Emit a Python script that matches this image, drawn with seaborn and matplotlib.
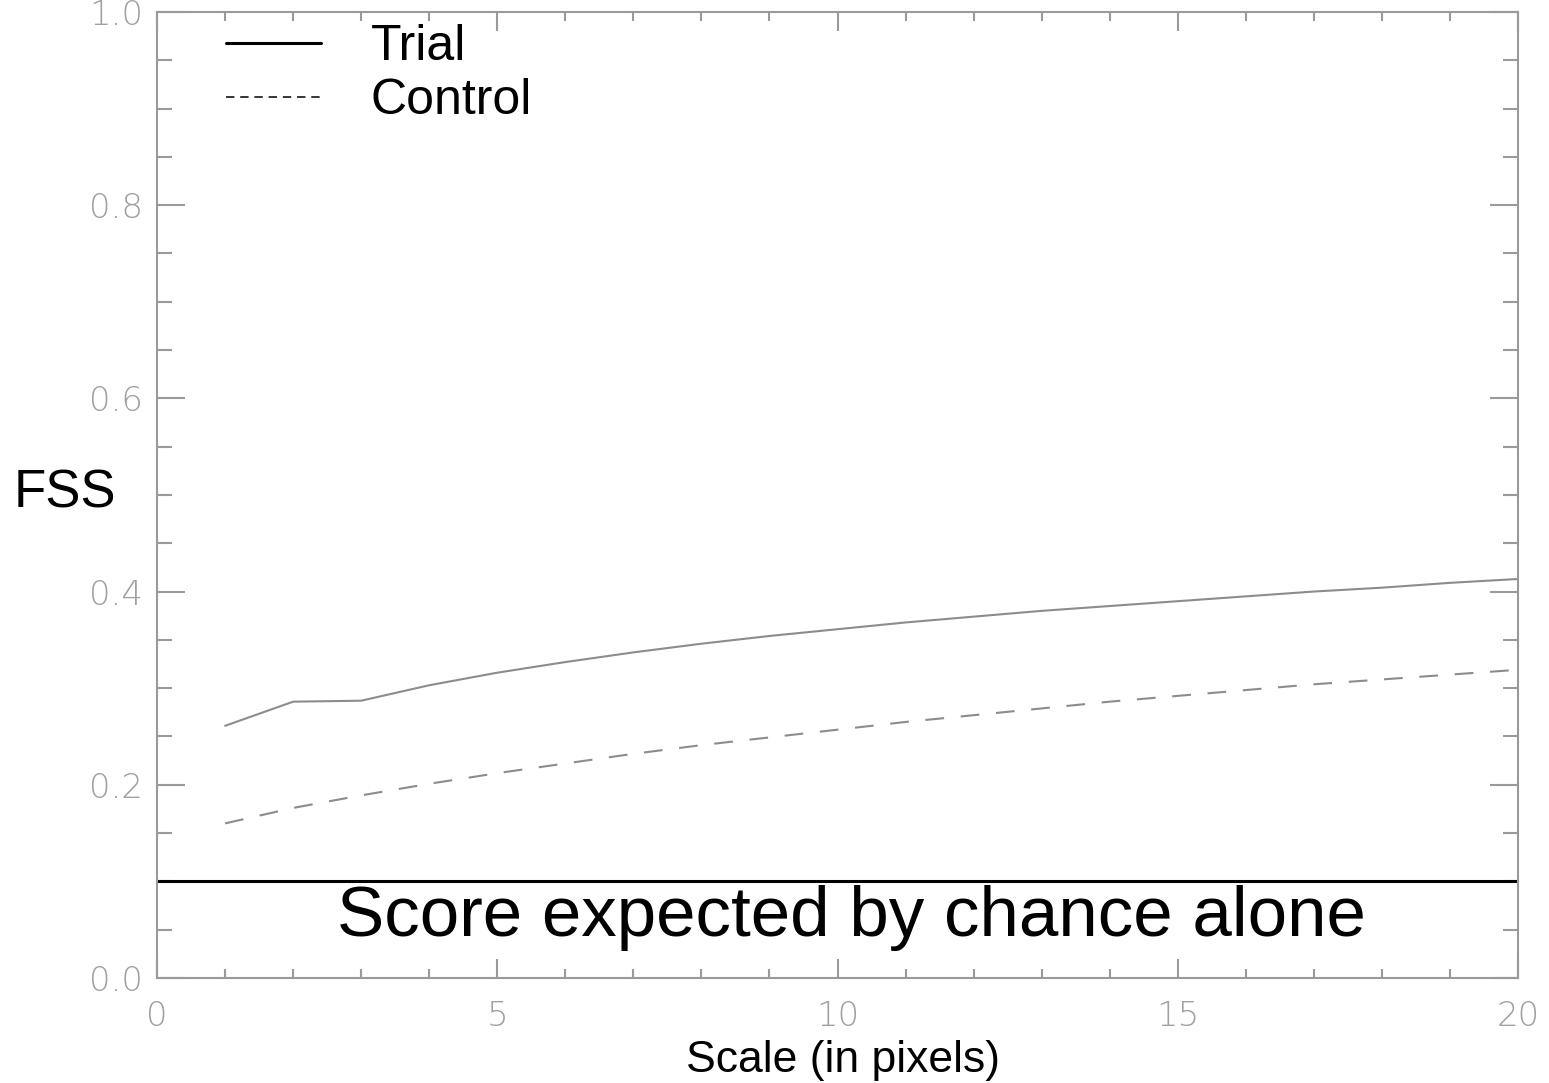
import numpy as np
import pandas as pd
import seaborn as sns
import matplotlib.pyplot as plt
from matplotlib.lines import Line2D
from matplotlib.ticker import MultipleLocator

# FSS, scales 1..20 pixels
scales = list(range(1, 21))
trial_fss = [0.261, 0.286, 0.287, 0.303, 0.316, 0.327, 0.337, 0.346, 0.354, 0.361,
             0.368, 0.374, 0.380, 0.385, 0.390, 0.395, 0.400, 0.404, 0.409, 0.413]
control_fss = [0.160, 0.176, 0.189, 0.201, 0.212, 0.222, 0.232, 0.241, 0.249, 0.257,
               0.265, 0.272, 0.279, 0.286, 0.292, 0.298, 0.304, 0.309, 0.314, 0.319]
chance_score = 0.1
series_names = ["Trial", "Control"]

df = pd.DataFrame({
    "scale": scales + scales,
    "fss": trial_fss + control_fss,
    "run": ["Trial"] * len(scales) + ["Control"] * len(scales),
})

sns.set_theme(style="ticks")
plt.rcParams["font.family"] = ["Liberation Sans", "DejaVu Sans"]

grey = "#9a9a9a"
fig = plt.figure(figsize=(15.49, 10.83), dpi=100)
ax = fig.add_axes([0.1014, 0.097, 0.8786, 0.892])

sns.lineplot(data=df, x="scale", y="fss", style="run",
             dashes={"Trial": "", "Control": (9, 8)},
             color="#8c8c8c", linewidth=1.5, legend=False, ax=ax)

ax.axhline(chance_score, color="black", linewidth=2.2)
ax.text(10.2, 0.043, "Score expected by chance alone", ha="center", va="baseline",
        fontsize=51, color="black")

ax.set_xlim(0, 20)
ax.set_ylim(0, 1.0)
ax.xaxis.set_major_locator(MultipleLocator(5))
ax.xaxis.set_minor_locator(MultipleLocator(1))
ax.yaxis.set_major_locator(MultipleLocator(0.2))
ax.yaxis.set_minor_locator(MultipleLocator(0.05))
ax.xaxis.set_major_formatter(plt.FuncFormatter(lambda v, p: f"{v:.0f}"))
ax.yaxis.set_major_formatter(plt.FuncFormatter(lambda v, p: f"{v:.1f}"))

for s in ax.spines.values():
    s.set_visible(True)
    s.set_color(grey)
    s.set_linewidth(1.5)

ax.tick_params(axis="both", which="both", direction="in", top=True, right=True,
               color=grey, width=1.5, labelcolor="#a0a0a0", labelsize=24.5)
ax.tick_params(axis="x", which="major", length=14, pad=16)
ax.tick_params(axis="x", which="minor", length=6.5)
ax.tick_params(axis="y", which="major", length=20, pad=10)
ax.tick_params(axis="y", which="minor", length=10.5)
for lab in ax.get_xticklabels() + ax.get_yticklabels():
    lab.set_fontfamily("DejaVu Sans")
    lab.set_fontweight("light")

ax.set_xlabel("Scale (in pixels)", fontsize=32, color="black")
ax.xaxis.set_label_coords(0.504, -0.097)
ax.xaxis.label.set_va("baseline")
ax.set_ylabel("FSS", fontsize=38, color="black", rotation=0)
ax.yaxis.set_label_coords(-0.068, 0.501)
ax.yaxis.label.set_va("center")
ax.yaxis.label.set_ha("center")

handles = [
    Line2D([], [], color="black", linewidth=2.2),
    Line2D([], [], color="black", linewidth=1.1, linestyle=(0, (5.5, 3.8))),
]
leg = ax.legend(handles, series_names, loc="upper left", bbox_to_anchor=(0.051, 0.987),
                frameon=False, fontsize=36, handlelength=1.9, handletextpad=0.98,
                borderpad=0, borderaxespad=0, labelspacing=0.16)
for t in leg.get_texts():
    t.set_color("black")

fig.savefig("out.png", dpi=100)
